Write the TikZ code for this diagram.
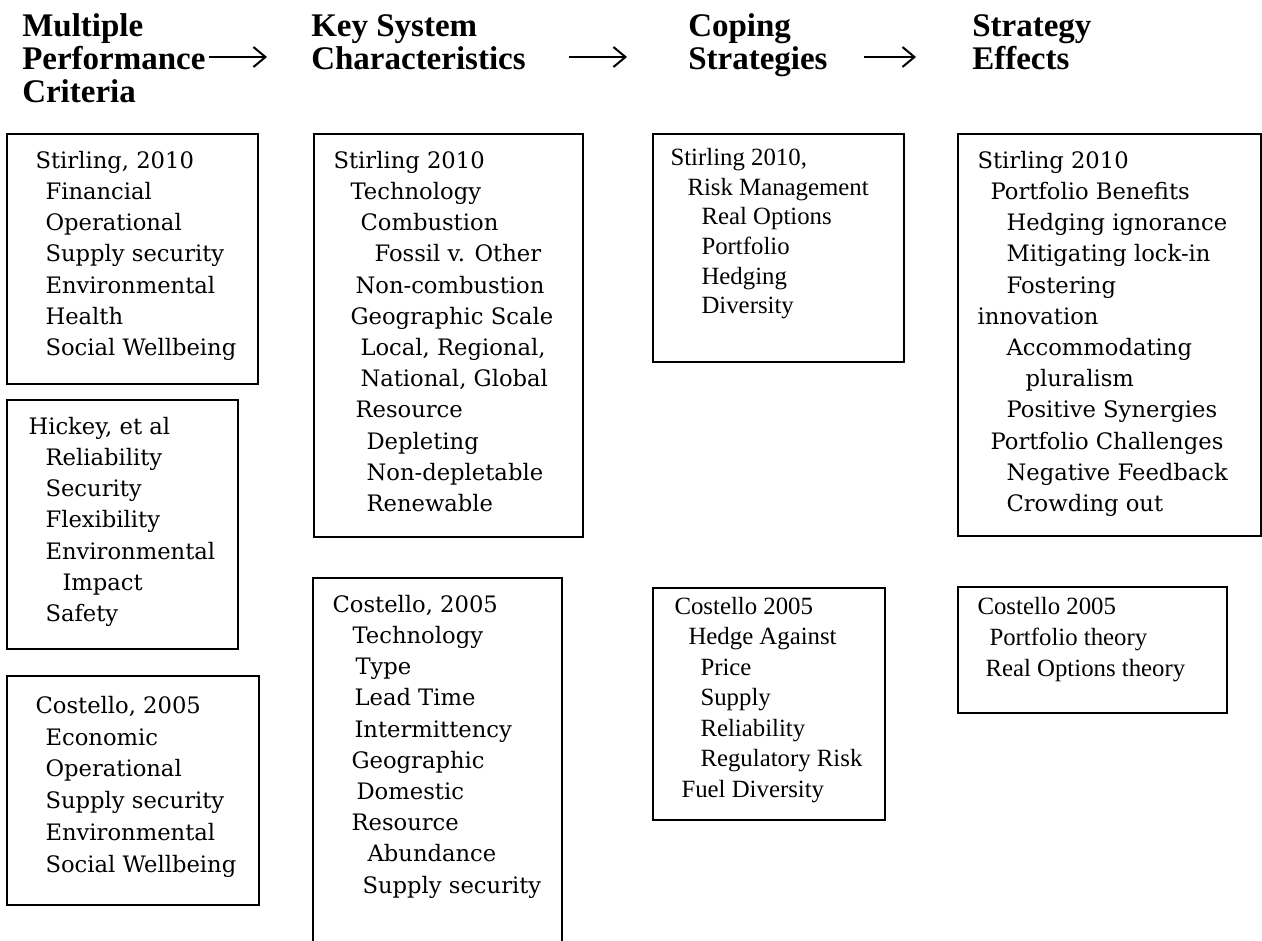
\documentclass[tikz,border=0pt]{standalone}
\usepackage{fontspec}
\newfontfamily\cambriafont{DejaVu Serif}
\newfontfamily\garafont{Liberation Serif}
\newfontfamily\headfont{Liberation Serif}
\usetikzlibrary{arrows.meta,fit,positioning}
\newcommand{\ind}[1]{\hspace*{0.75\dimexpr#1pt\relax}}
% lines of a box, baseline at the first line
\newcommand{\lines}[1]{\begin{tabular}[t]{@{}l@{}}#1\end{tabular}}

\begin{document}
\begin{tikzpicture}[x=0.75pt, y=-0.75pt,
		box/.style = {draw=black, line width=1.1pt, inner sep=0pt},
		cam/.style = {anchor=base west, inner sep=0pt,
				font=\fontsize{17}{23.4}\cambriafont},
		gar/.style = {anchor=base west, inner sep=0pt,
				font=\fontsize{18.6}{22.3}\garafont},
		head/.style = {anchor=base west, inner sep=0pt,
				font=\fontsize{24.75}{24.75}\headfont\bfseries},
		flow/.style = {-{Straight Barb[length=9pt,width=15pt]}, line width=1.5pt}
	]
	\useasboundingbox (0,0) rectangle (1262,940);

	% column headers
	\node [head] (hdA) at (22,36) {\lines{Multiple\\Performance\\Criteria}};
	\node [head] (hdB) at (311,36) {\lines{Key System\\Characteristics}};
	\node [head] (hdC) at (688,36) {\lines{Coping\\Strategies}};
	\node [head] (hdD) at (972,36) {\lines{Strategy\\Effects}};

	\coordinate (a1s) at (209,57);
	\coordinate (a1e) at (267,57);
	\coordinate (a2s) at (569,57);
	\coordinate (a2e) at (627,57);
	\coordinate (a3s) at (864,57);
	\coordinate (a3e) at (916,57);
	\draw [flow] (a1s) -- (a1e);
	\draw [flow] (a2s) -- (a2e);
	\draw [flow] (a3s) -- (a3e);

	% performance criteria
	\node [box, fit={(7,134) (258,384)}] (critA) {};
	\node [cam] (critAtxt) at ([shift={(29,35)}]critA.north west)
		{\lines{Stirling, 2010\\ \ind{10}Financial\\ \ind{10}Operational\\ \ind{10}Supply security\\
		 \ind{10}Environmental\\ \ind{10}Health\\ \ind{10}Social Wellbeing}};

	\node [box, fit={(7,400) (238,649)}] (critB) {};
	\node [cam] (critBtxt) at ([shift={(22,35)}]critB.north west)
		{\lines{Hickey, et al\\ \ind{17}Reliability\\ \ind{17}Security\\ \ind{17}Flexibility\\
		 \ind{17}Environmental\\ \ind{34}Impact\\ \ind{17}Safety}};

	\node [box, fit={(7,676) (259,905)}] (critC) {};
	\node [cam, font=\fontsize{17}{23.85}\cambriafont] (critCtxt) at ([shift={(29,38)}]critC.north west)
		{\lines{Costello, 2005\\ \ind{10}Economic\\ \ind{10}Operational\\ \ind{10}Supply security\\
		 \ind{10}Environmental\\ \ind{10}Social Wellbeing}};

	% system characteristics
	\node [box, fit={(314,134) (583,537)}] (charA) {};
	\node [cam] (charAtxt) at ([shift={(20,35)}]charA.north west)
		{\lines{Stirling 2010\\ \ind{17}Technology\\ \ind{27}Combustion\\ \ind{41}Fossil v. Other\\
		 \ind{22}Non-combustion\\ \ind{17}Geographic Scale\\ \ind{27}Local, Regional,\\
		 \ind{27}National, Global\\ \ind{22}Resource\\ \ind{33}Depleting\\
		 \ind{33}Non-depletable\\ \ind{33}Renewable}};

	\node [box, fit={(313,578) (562,960)}] (charB) {};
	\node [cam] (charBtxt) at ([shift={(20,35)}]charB.north west)
		{\lines{Costello, 2005\\ \ind{20}Technology\\ \ind{23}Type\\ \ind{22}Lead Time\\
		 \ind{22}Intermittency\\ \ind{19}Geographic\\ \ind{24}Domestic\\ \ind{19}Resource\\
		 \ind{35}Abundance\\ \ind{30}Supply security}};

	% coping strategies
	\node [box, fit={(653,134) (904,362)}] (copeA) {};
	\node [gar] (copeAtxt) at ([shift={(18,32)}]copeA.north west)
		{\lines{Stirling 2010,\\ \ind{17}Risk Management\\ \ind{31}Real Options\\ \ind{31}Portfolio\\
		 \ind{31}Hedging\\ \ind{31}Diversity}};

	\node [box, fit={(653,588) (885,820)}] (copeB) {};
	\node [gar, font=\fontsize{18.6}{22.9}\garafont] (copeBtxt) at ([shift={(22,27)}]copeB.north west)
		{\lines{Costello 2005\\ \ind{14}Hedge Against\\ \ind{26}Price\\ \ind{26}Supply\\
		 \ind{26}Reliability\\ \ind{26}Regulatory Risk\\ \ind{7}Fuel Diversity}};

	% strategy effects
	\node [box, fit={(958,134) (1261,536)}] (effA) {};
	\node [cam] (effAtxt) at ([shift={(20,35)}]effA.north west)
		{\lines{Stirling 2010\\ \ind{13}Portfolio Benefits\\ \ind{29}Hedging ignorance\\
		 \ind{29}Mitigating lock-in\\ \ind{29}Fostering\\ innovation\\ \ind{29}Accommodating\\
		 \ind{48}pluralism\\ \ind{29}Positive Synergies\\ \ind{13}Portfolio Challenges\\
		 \ind{29}Negative Feedback\\ \ind{29}Crowding out}};

	\node [box, fit={(958,587) (1227,713)}] (effB) {};
	\node [gar, font=\fontsize{18.6}{23.25}\garafont] (effBtxt) at ([shift={(20,28)}]effB.north west)
		{\lines{Costello 2005\\ \ind{12}Portfolio theory\\ \ind{8}Real Options theory}};
\end{tikzpicture}
\end{document}
